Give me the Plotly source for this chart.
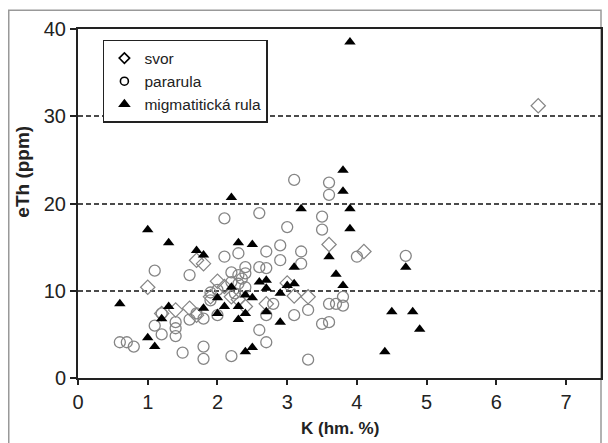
import plotly.graph_objects as go

# svor (diamonds)
svor_k = [6.6, 1.0, 1.4, 1.6, 1.7, 1.8, 1.9, 2.0, 2.2, 2.7, 3.1, 3.3, 3.6, 4.1, 3.0, 2.4, 1.7, 1.2, 2.1, 2.3]
svor_th = [31.2, 10.4, 7.8, 8.0, 13.5, 13.1, 9.3, 11.1, 9.3, 8.5, 9.4, 9.3, 15.3, 14.5, 10.9, 8.2, 7.2, 7.4, 10.5, 9.0]

# pararula (circles)
para_k = [0.6, 0.7, 0.8, 1.1, 1.1, 1.2, 1.2, 1.4, 1.4, 1.4, 1.5, 1.6, 1.6, 1.7, 1.8, 1.8, 1.8,
          1.9, 2.0, 2.0, 2.1, 2.1, 2.2, 2.2, 2.3, 2.3, 2.35, 2.4, 2.4, 2.4, 2.25, 2.6, 2.6, 2.6,
          2.7, 2.7, 2.7, 2.7, 2.8, 2.9, 2.9, 3.0, 3.1, 3.1, 3.2, 3.2, 3.3, 3.3, 3.5, 3.5, 3.5,
          3.6, 3.6, 3.6, 3.6, 3.7, 3.8, 3.8, 4.0, 4.7, 2.2, 2.3, 1.9]
para_th = [4.1, 4.1, 3.6, 12.3, 6.0, 5.0, 7.4, 6.4, 5.7, 4.8, 2.9, 11.8, 6.7, 7.4, 3.6, 2.2, 6.8,
           8.9, 7.2, 10.1, 18.3, 13.9, 12.1, 2.5, 14.3, 10.8, 11.4, 12.7, 12.0, 10.4, 9.7, 18.9, 12.7, 5.5,
           14.5, 12.6, 7.2, 4.1, 8.5, 15.2, 13.5, 17.3, 22.7, 7.2, 14.5, 13.1, 7.8, 2.1, 18.5, 17.0,
           6.2, 22.4, 21.0, 8.5, 6.4, 8.5, 8.3, 9.3, 13.9, 14.0, 11.0, 11.8, 9.8]

# migmatitická rula (filled triangles)
migm_k = [3.9, 0.6, 1.0, 1.3, 1.0, 1.1, 1.2, 1.3, 1.7, 1.8, 1.8, 2.0, 2.0, 2.1, 2.2, 2.2, 2.3,
          2.3, 2.3, 2.4, 2.4, 2.5, 2.5, 2.4, 2.5, 2.6, 2.7, 2.7, 2.7, 2.9, 2.9, 3.0, 3.1, 3.1,
          3.2, 3.6, 3.7, 3.8, 3.8, 3.8, 3.9, 3.9, 4.4, 4.5, 4.7, 4.8, 4.9]
migm_th = [38.5, 8.5, 17.0, 15.5, 4.6, 3.6, 6.8, 8.2, 14.6, 14.1, 8.0, 9.2, 7.4, 8.2, 20.7, 10.4, 15.5,
           8.2, 6.7, 7.4, 9.5, 15.3, 9.2, 3.0, 3.5, 11.0, 11.2, 10.3, 7.6, 9.7, 6.4, 10.6, 12.7, 10.8,
           19.4, 13.9, 11.9, 23.8, 21.4, 10.6, 19.4, 17.1, 3.0, 7.6, 12.7, 7.6, 5.6]

x_ticks = [0, 1, 2, 3, 4, 5, 6, 7]
y_ticks = [0, 10, 20, 30, 40]

FONT = "Liberation Sans, Arial, sans-serif"
GRAY = "#858585"

fig = go.Figure()
fig.add_trace(go.Scatter(x=para_k, y=para_th, mode="markers", showlegend=False,
                         marker=dict(symbol="circle-open", size=11, color=GRAY, line=dict(width=1.3))))
fig.add_trace(go.Scatter(x=svor_k, y=svor_th, mode="markers", showlegend=False,
                         marker=dict(symbol="diamond-open", size=11, color=GRAY, line=dict(width=1.2))))
fig.add_trace(go.Scatter(x=migm_k, y=migm_th, mode="markers", showlegend=False,
                         marker=dict(symbol="triangle-up", size=10, color="black")))

# legend entries
fig.add_trace(go.Scatter(x=[None], y=[None], mode="markers", name="svor",
                         marker=dict(symbol="diamond-open", size=8, color="black", line=dict(width=1.6))))
fig.add_trace(go.Scatter(x=[None], y=[None], mode="markers", name="pararula",
                         marker=dict(symbol="circle-open", size=8, color="black", line=dict(width=1.6))))
fig.add_trace(go.Scatter(x=[None], y=[None], mode="markers", name="migmatitická rula",
                         marker=dict(symbol="triangle-up", size=11, color="black")))

fig.update_layout(
    width=608, height=443,
    margin=dict(l=78, r=5, t=29, b=65),
    paper_bgcolor="white", plot_bgcolor="white",
    font=dict(family=FONT, color="#222", size=16),
    legend=dict(x=0.0476, y=0.9685, xanchor="left", yanchor="top",
                bordercolor="#222", borderwidth=1.5, bgcolor="white",
                font=dict(size=15.5, family=FONT), tracegroupgap=0,
                itemwidth=30),
    xaxis=dict(range=[0, 7.5], tickvals=x_ticks, ticks="outside", ticklen=5, tickwidth=1.5,
               tickcolor="#222", showline=True, linecolor="#222", linewidth=2, mirror=True,
               showgrid=False, zeroline=False, tickfont=dict(size=20)),
    yaxis=dict(range=[0, 40], tickvals=y_ticks, ticks="outside", ticklen=6, tickwidth=1.5,
               tickcolor="#222", showline=True, linecolor="#222", linewidth=2, mirror=True,
               showgrid=True, gridcolor="#4a4a4a", gridwidth=1.8, griddash="5px,3px", zeroline=False,
               tickfont=dict(size=20)),
    annotations=[
        dict(text="<b>K (hm. %)</b>", xref="paper", yref="paper", x=0.5, y=-0.146,
             xanchor="center", yanchor="middle", showarrow=False, font=dict(size=17, family=FONT)),
        dict(text="<b>eTh (ppm)</b>", xref="paper", yref="paper", x=-0.106, y=0.59,
             xanchor="center", yanchor="middle", showarrow=False, textangle=-90,
             font=dict(size=19, family=FONT)),
    ],
    shapes=[dict(type="rect", xref="paper", yref="paper", x0=-0.1324, x1=1.0, y0=-0.25, y1=1.054,
                 line=dict(color="#999", width=1.5), layer="below")],
)

fig.write_html("out.html")
